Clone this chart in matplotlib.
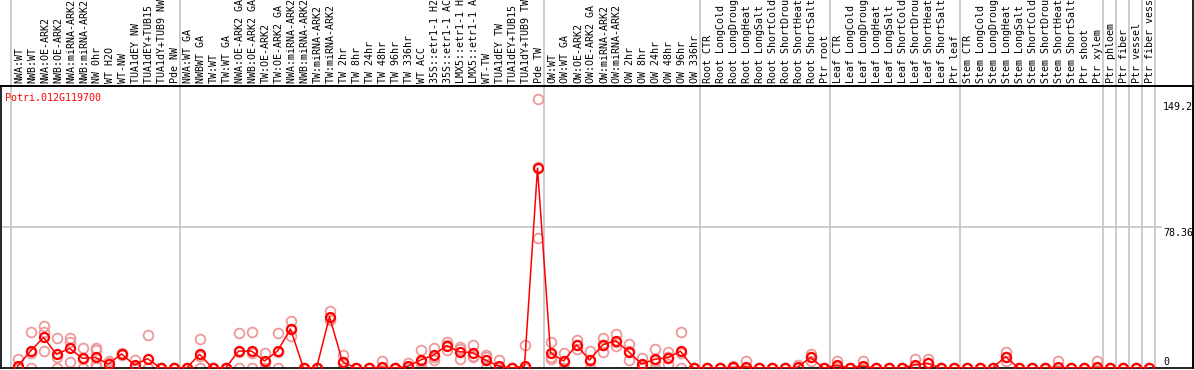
import matplotlib
matplotlib.use('Agg')
import matplotlib.pyplot as plt

# ---------------- data ----------------
gene = "Potri.012G119700"

group1 = ['NWA:WT', 'NWB:WT', 'NWA:OE-ARK2', 'NWB:OE-ARK2', 'NWA:miRNA-ARK2', 'NWB:miRNA-ARK2',
          'NW 0hr', 'WT H2O', 'WT-NW', 'TUA1dEY NW', 'TUA1dEY+TUB15 NW', 'TUA1dY+TUB9 NW', 'Pde NW']
group2 = ['NWA:WT GA', 'NWBWT GA', 'TW:WT', 'TW:WT GA', 'NWA:OE-ARK2 GA', 'NWB:OE-ARK2 GA',
          'TW:OE-ARK2', 'TW:OE-ARK2 GA', 'NWA:miRNA-ARK2 GA', 'NWB:miRNA-ARK2 GA', 'TW:miRNA-ARK2',
          'TW:miRNA-ARK2 GA', 'TW 2hr', 'TW 8hr', 'TW 24hr', 'TW 48hr', 'TW 96hr', 'TW 336hr', 'WT ACC',
          '35S::etr1-1 H2O', '35S::etr1-1 ACC', 'LMX5::etr1-1 H2O', 'LMX5::etr1-1 ACC', 'WT-TW',
          'TUA1dEY TW', 'TUA1dEY+TUB15 TW', 'TUA1dY+TUB9 TW', 'Pde TW']
group3 = ['OW:WT', 'OW:WT GA', 'OW:OE-ARK2', 'OW:OE-ARK2 GA', 'OW:miRNA-ARK2', 'OW:miRNA-ARK2 GA',
          'OW 2hr', 'OW 8hr', 'OW 24hr', 'OW 48hr', 'OW 96hr', 'OW 336hr']
group4 = ['Root CTR', 'Root LongCold', 'Root LongDrought', 'Root LongHeat', 'Root LongSalt',
          'Root ShortCold', 'Root ShortDrought', 'Root ShortHeat', 'Root ShortSalt', 'Ptr root']
group5 = ['Leaf CTR', 'Leaf LongCold', 'Leaf LongDrought', 'Leaf LongHeat', 'Leaf LongSalt',
          'Leaf ShortCold', 'Leaf ShortDrought', 'Leaf ShortHeat', 'Leaf ShortSalt', 'Ptr leaf']
group6 = ['Stem CTR', 'Stem LongCold', 'Stem LongDrought', 'Stem LongHeat', 'Stem LongSalt',
          'Stem ShortCold', 'Stem ShortDrought', 'Stem ShortHeat', 'Stem ShortSalt', 'Ptr shoot', 'Ptr xylem']
group7 = ['Ptr phloem']
group8 = ['Ptr fiber']
group9 = ['Ptr vessel']
group10 = ['Ptr fiber vessel']
groups = [group1, group2, group3, group4, group5, group6, group7, group8, group9, group10]

means = [1.0, 9.4, 17.0, 7.6, 10.9, 5.4, 5.9, 2.2, 7.8, 1.7, 5.2, 0, 0,
         0, 7.6, 0, 0, 9.4, 9.4, 3.9, 9.4, 21.7, 0, 0, 28.5, 3.5, 0, 0, 0.4, 0, 0.9, 4.4, 7.2,
         12.4, 9.1, 8.5, 4.4, 1.1, 0, 1.1, 111.0,
         8.5, 3.9, 12.8, 4.4, 12.8, 15.2, 9.1, 2.2, 4.8, 5.7, 9.3, 0,
         0, 0, 0.4, 0.6, 0, 0, 0, 0.4, 5.9, 0,
         1.5, 0, 1.1, 0, 0, 0, 1.7, 2.6, 0, 0,
         0, 0, 0, 6.3, 0, 0, 0, 0.4, 0, 0, 0.4,
         0, 0, 0, 0]

replicates = [
    [5.0, 0, 0], [19.8, 8.4, 0], [23.3, 20.2, 9.4], [16.5, 6.3, 0], [16.5, 14.6, 3.5],
    [11.3, 5.0, 0], [11.2, 10.0, 2.0, 0.3], [4.1, 2.5, 0], [8.4, 7.8, 7.2], [4.4, 0.7, 0],
    [18.3, 0, 0], [0, 0, 0], [0, 0, 0],
    [0, 0, 0], [16.3, 6.5, 0], [0, 0, 0], [0, 0, 0], [19.4, 8.8, 0], [20.0, 8.2, 0],
    [8.5, 3.2, 0], [19.2, 9.0, 0], [25.9, 21.4, 17.8], [0, 0, 0], [0, 0, 0], [31.7, 27.1, 26.7],
    [7.4, 3.1, 0], [0, 0, 0], [0, 0, 0], [4.1, 0, 0], [0, 0, 0], [2.9, 0, 0], [10.0, 3.2, 0],
    [10.9, 6.3, 4.4], [14.6, 12.6, 10.0], [11.9, 10.4, 5.0], [12.8, 6.4, 6.3], [7.2, 6.0, 0],
    [4.4, 0, 0], [0, 0, 0], [12.8, 0, 0], [149.2, 111.7, 72.1],
    [14.3, 6.0, 5.2], [8.5, 3.2, 0], [15.6, 12.8, 10.4], [9.4, 3.8, 0], [16.5, 12.8, 9.1],
    [18.9, 14.3, 12.4], [13.3, 9.6, 4.4], [5.4, 1.2, 0], [10.4, 4.0, 0], [8.7, 6.2, 2.2],
    [19.8, 8.1, 0], [0, 0, 0],
    [0, 0, 0], [0, 0, 0], [1.3, 0, 0], [3.9, 0, 0], [0, 0, 0], [0, 0, 0], [0, 0, 0],
    [1.7, 0, 0], [7.8, 6.0, 4.0], [0, 0, 0],
    [3.9, 0.6, 0], [0, 0, 0], [3.9, 0, 0], [0, 0, 0], [0, 0, 0], [0, 0, 0], [4.8, 0.3, 0],
    [4.8, 3.0, 0], [0, 0, 0], [0, 0, 0],
    [0, 0, 0], [0, 0, 0], [0, 0, 0], [8.7, 6.3, 4.0], [0, 0, 0], [0, 0, 0], [0, 0, 0],
    [3.9, 0, 0], [0, 0, 0], [0, 0, 0], [3.9, 0, 0],
    [0, 0, 0], [0, 0, 0], [0, 0, 0], [0, 0, 0]]

max_val = 149.2
mid_val = 78.36

# ---------------- layout ----------------
W, H = 1194, 370
fig = plt.figure(figsize=(W / 100, H / 100), dpi=100)
L, R, T, B = 1, 1193, 86, 368
ax = fig.add_axes([L / W, (H - B) / H, (R - L) / W, (B - T) / H])

labels = [lab for g in groups for lab in g]
n = len(labels)
x = list(range(n))
# column i centre at pixel 17.5 + 13*i
ax.set_xlim((L - 17.5) / 13, (R - 17.5) / 13)
ax.set_ylim(0, max_val * 1.05)
ax.set_xticks([])
ax.set_yticks([])
for s in ax.spines.values():
    s.set_color('black')
    s.set_linewidth(1.2)

mono = 'DejaVu Sans Mono'
fs = 7.2
gray = '#c4c4c4'
ext = (B - 0) / (B - T)  # axes fraction reaching top of figure

# group separators
edges = [0]
for g in groups:
    edges.append(edges[-1] + len(g))
for e in edges:
    ax.axvline(e - 0.5, ymin=0, ymax=ext, color=gray, lw=1.2, clip_on=False, zorder=1)

# black line under labels, extended to figure left edge
ax.plot([(0 - 17.5) / 13, (R - 17.5) / 13], [max_val * 1.05] * 2, color='black', lw=1.2,
        clip_on=False, zorder=5)
# right border full height
ax.axvline((R - 17.5) / 13, ymin=0, ymax=ext, color='black', lw=1.2, clip_on=False, zorder=5)

# mid grid line
ax.axhline(mid_val, xmin=0, xmax=(1161 - L) / (R - L), color=gray, lw=1.2, zorder=1)

# replicate points
rx, ry = [], []
for i, reps in enumerate(replicates):
    for v in reps:
        rx.append(i)
        ry.append(v)
ax.plot(rx, ry, linestyle='none', marker='o', ms=7, mfc='none', mec='#ee9999', mew=1.3,
        clip_on=True, zorder=2)

# mean line and points
ax.plot(x, means, color='#ff0000', lw=1.1, zorder=3)
ax.plot(x, means, linestyle='none', marker='o', ms=6.5, mfc='none', mec='#ff0000', mew=1.6,
        zorder=4)

# column labels
for i, lab in enumerate(labels):
    fig.text((17.5 + 13 * i + 1.5) / W, (H - 83) / H, lab, rotation=90, ha='center', va='bottom',
             fontsize=fs, family=mono, color='black', rotation_mode='default')

# gene name
fig.text(5 / W, (H - 98) / H, gene, ha='left', va='center', fontsize=fs, family=mono, color='#ff0000')

# y labels
from matplotlib.transforms import offset_copy
tr = ax.transData
def ypix(v):
    return B - v * (B - T) / (max_val * 1.05)
fig.text(1163 / W, (H - ypix(max_val) - 3) / H, f"{max_val:g}", ha='left', va='top',
         fontsize=fs, family=mono)
fig.text(1163 / W, (H - ypix(mid_val) - 1) / H, f"{mid_val:g}", ha='left', va='top',
         fontsize=fs, family=mono)
fig.text(1163 / W, (H - 367) / H, "0", ha='left', va='bottom', fontsize=fs, family=mono)

fig.savefig('out.png', dpi=100)
